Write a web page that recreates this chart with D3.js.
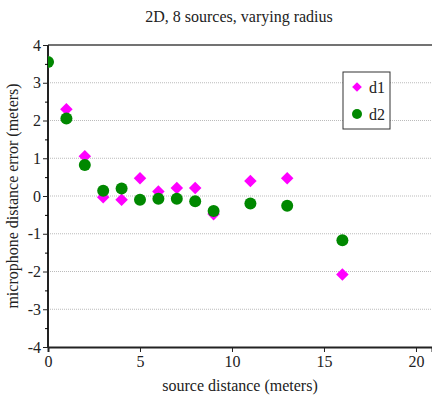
<!DOCTYPE html>
<html>
<head>
<meta charset="utf-8">
<script src="https://cdn.jsdelivr.net/npm/d3@7"></script>
<style>
  body { margin: 0; background: #fff; }
  text { font-family: "Liberation Serif", "DejaVu Serif", serif; fill: #222; }
</style>
</head>
<body>
<svg id="chart"></svg>
<script>
var xs = [0, 1, 2, 3, 4, 5, 6, 7, 8, 9, 11, 13, 16];
var d1 = [3.55, 2.3, 1.05, -0.03, -0.1, 0.47, 0.12, 0.21, 0.21, -0.48, 0.4, 0.47, -2.08];
var d2 = [3.55, 2.05, 0.82, 0.14, 0.2, -0.1, -0.07, -0.07, -0.14, -0.4, -0.2, -0.26, -1.17];
var yTicks = [-4, -3, -2, -1, 0, 1, 2, 3, 4];
var xTicks = [0, 5, 10, 15, 20];

var width = 432, height = 398;
var margin = {left: 48, right: 0, top: 45, bottom: 51};
var svg = d3.select("#chart").attr("width", width).attr("height", height);

var x = d3.scaleLinear().domain([0, 20.87]).range([margin.left, width - margin.right]);
var y = d3.scaleLinear().domain([-4, 4]).range([height - margin.bottom, margin.top]);

svg.append("defs").append("clipPath").attr("id", "clip")
   .append("rect")
   .attr("x", margin.left).attr("y", margin.top)
   .attr("width", width - margin.left - margin.right)
   .attr("height", height - margin.top - margin.bottom);

// grid
svg.append("g").selectAll("line")
   .data(yTicks.filter(function(d) { return d > -4 && d < 4; }))
   .enter().append("line")
   .attr("x1", margin.left).attr("x2", width)
   .attr("y1", function(d) { return y(d); }).attr("y2", function(d) { return y(d); })
   .attr("stroke", "#bbb").attr("stroke-dasharray", "1,1");

// top border
svg.append("line")
   .attr("x1", margin.left).attr("x2", width)
   .attr("y1", y(4)).attr("y2", y(4))
   .attr("stroke", "#444").attr("stroke-width", 1.5);

// axes
var yAxis = d3.axisLeft(y).tickValues(yTicks).tickSize(5).tickPadding(2)
              .tickFormat(function(d) { return String(d); });
var yMinor = d3.axisLeft(y).tickValues(d3.range(-3.5, 4, 1)).tickSize(3).tickFormat("");
var xAxis = d3.axisBottom(x).tickValues(xTicks).tickSize(5).tickPadding(4);

var gy = svg.append("g").attr("transform", "translate(" + margin.left + ",0)").call(yAxis);
svg.append("g").attr("transform", "translate(" + margin.left + ",0)").call(yMinor)
   .select(".domain").remove();
var gx = svg.append("g").attr("transform", "translate(0," + y(-4) + ")").call(xAxis);

[gy, gx].forEach(function(g) {
  g.select(".domain").attr("stroke", "#222").attr("stroke-width", 2);
  g.selectAll(".tick text").style("font-size", "16px")
   .style("font-family", "Liberation Serif, serif").attr("fill", "#222");
  g.selectAll(".tick line").attr("stroke", "#222");
});
gy.select(".domain").attr("d", "M0," + y(4) + "V" + y(-4));

// points
var plot = svg.append("g").attr("clip-path", "url(#clip)");
var diamond = d3.symbol().type(d3.symbolDiamond2).size(100);
plot.selectAll("path.d1")
    .data(xs.map(function(v, i) { return [v, d1[i]]; }))
    .enter().append("path")
    .attr("class", "d1")
    .attr("d", diamond)
    .attr("transform", function(d) { return "translate(" + x(d[0]) + "," + y(d[1]) + ")"; })
    .attr("fill", "#ff00ff");
plot.selectAll("circle.d2")
    .data(xs.map(function(v, i) { return [v, d2[i]]; }))
    .enter().append("circle")
    .attr("class", "d2")
    .attr("cx", function(d) { return x(d[0]); })
    .attr("cy", function(d) { return y(d[1]); })
    .attr("r", 6)
    .attr("fill", "#008800");

// legend
var lg = svg.append("g").attr("transform", "translate(343,72)");
lg.append("rect").attr("width", 47).attr("height", 57)
  .attr("fill", "#fff").attr("stroke", "#333").attr("stroke-width", 1);
lg.append("path").attr("d", d3.symbol().type(d3.symbolDiamond2).size(60))
  .attr("transform", "translate(14,15)").attr("fill", "#ff00ff");
lg.append("circle").attr("cx", 14).attr("cy", 42).attr("r", 5).attr("fill", "#008800");
lg.append("text").attr("x", 26).attr("y", 21).style("font-size", "16px").text("d1");
lg.append("text").attr("x", 26).attr("y", 48).style("font-size", "16px").text("d2");

// titles
svg.append("text").attr("x", 239).attr("y", 22).attr("text-anchor", "middle")
   .style("font-size", "16px").text("2D, 8 sources, varying radius");
svg.append("text").attr("x", 240).attr("y", 391).attr("text-anchor", "middle")
   .style("font-size", "16px").text("source distance (meters)");
svg.append("text").attr("transform", "translate(18," + y(0) + ") rotate(-90)")
   .attr("text-anchor", "middle")
   .style("font-size", "16px").text("microphone distance error (meters)");
</script>
</body>
</html>
